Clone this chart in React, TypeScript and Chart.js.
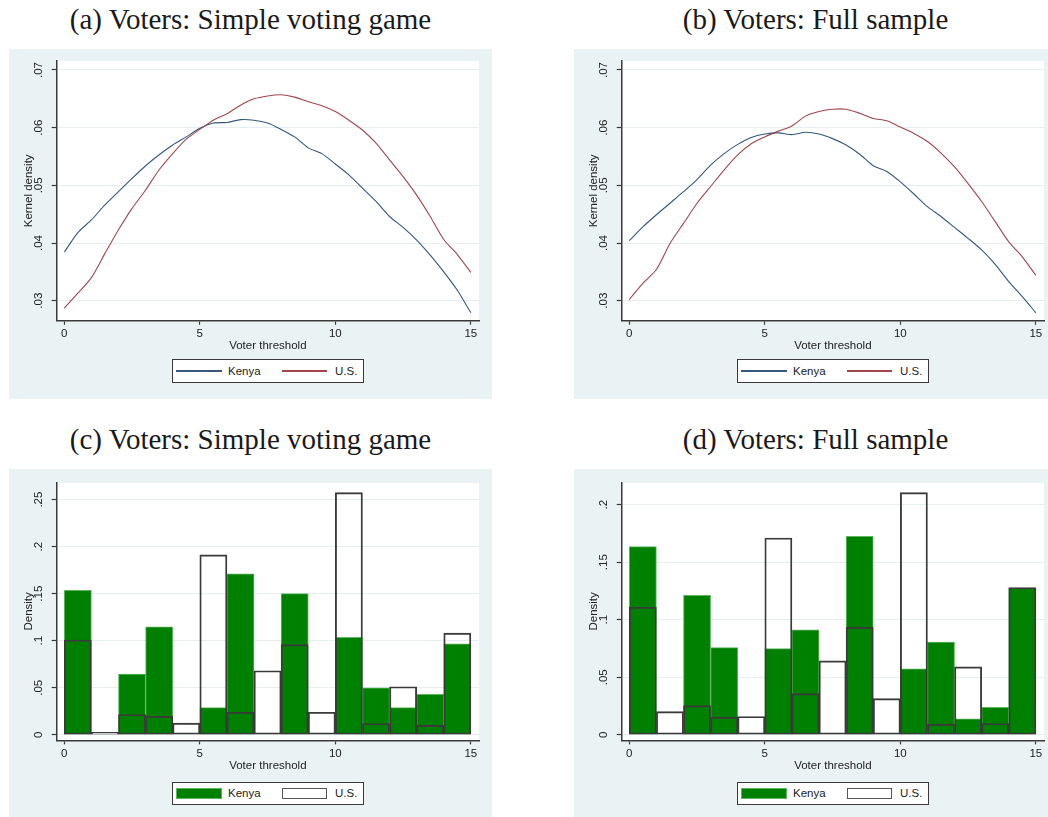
import React, { useEffect, useRef } from 'react';
import { Chart, registerables } from 'chart.js';

Chart.register(...registerables);

// ---------- DATA ----------
const gridX = [0, 0.5, 1, 1.5, 2, 2.5, 3, 3.5, 4, 4.5, 5, 5.5, 6, 6.5, 7, 7.5, 8, 8.5, 9, 9.5, 10, 10.5, 11, 11.5, 12, 12.5, 13, 13.5, 14, 14.5, 15];

const kernelKenyaA = [0.0384, 0.0418, 0.0440, 0.0466, 0.0489, 0.0512, 0.0534, 0.0553, 0.0570, 0.0584, 0.0599, 0.0608, 0.0609, 0.0614, 0.0613, 0.0608, 0.0597, 0.0584, 0.0565, 0.0555, 0.0537, 0.0518, 0.0495, 0.0472, 0.0446, 0.0427, 0.0405, 0.0379, 0.0350, 0.0318, 0.0279];
const kernelUSA = [0.0287, 0.0313, 0.0340, 0.0382, 0.0423, 0.0460, 0.0492, 0.0527, 0.0555, 0.0580, 0.0597, 0.0613, 0.0624, 0.0639, 0.0650, 0.0655, 0.0657, 0.0653, 0.0645, 0.0638, 0.0628, 0.0613, 0.0596, 0.0573, 0.0544, 0.0515, 0.0483, 0.0446, 0.0406, 0.0380, 0.0349];

const kernelKenyaB = [0.0404, 0.0428, 0.0449, 0.0469, 0.0489, 0.0510, 0.0535, 0.0555, 0.0571, 0.0583, 0.0589, 0.0591, 0.0588, 0.0592, 0.0589, 0.0581, 0.0570, 0.0554, 0.0534, 0.0524, 0.0506, 0.0485, 0.0463, 0.0446, 0.0427, 0.0408, 0.0388, 0.0363, 0.0333, 0.0307, 0.0279];
const kernelUSB = [0.0302, 0.0330, 0.0354, 0.0399, 0.0434, 0.0469, 0.0498, 0.0527, 0.0553, 0.0572, 0.0584, 0.0594, 0.0603, 0.0620, 0.0628, 0.0632, 0.0632, 0.0625, 0.0616, 0.0612, 0.0601, 0.0590, 0.0576, 0.0556, 0.0532, 0.0503, 0.0472, 0.0437, 0.0402, 0.0376, 0.0344];

const binCenters = [0.5, 1.5, 2.5, 3.5, 4.5, 5.5, 6.5, 7.5, 8.5, 9.5, 10.5, 11.5, 12.5, 13.5, 14.5];

const histKenyaC = [0.1535, 0, 0.0644, 0.1148, 0, 0.0289, 0.1711, 0, 0.150, 0, 0.1035, 0.050, 0.0289, 0.043, 0.0968];
const histUSC = [0.1007, 0.0025, 0.0215, 0.0197, 0.0123, 0.1912, 0.0239, 0.068, 0.0958, 0.0239, 0.2574, 0.012, 0.051, 0.0099, 0.108];

const histKenyaD = [0.1635, 0, 0.1211, 0.0757, 0, 0.0748, 0.0912, 0, 0.1724, 0, 0.0573, 0.0806, 0.0138, 0.0239, 0.1272];
const histUSD = [0.1108, 0.0201, 0.0253, 0.0153, 0.0158, 0.171, 0.0357, 0.0642, 0.0935, 0.0314, 0.2104, 0.0092, 0.059, 0.0098, 0.128];

const xTicks = [0, 5, 10, 15];
const kernelYTicks = [0.03, 0.04, 0.05, 0.06, 0.07];
const kernelYLabels = ['.03', '.04', '.05', '.06', '.07'];
const histCYTicks = [0, 0.05, 0.1, 0.15, 0.2, 0.25];
const histCYLabels = ['0', '.05', '.1', '.15', '.2', '.25'];
const histDYTicks = [0, 0.05, 0.1, 0.15, 0.2];
const histDYLabels = ['0', '.05', '.1', '.15', '.2'];

const titles = [
  '(a) Voters: Simple voting game',
  '(b) Voters: Full sample',
  '(c) Voters: Simple voting game',
  '(d) Voters: Full sample',
];
const seriesNames = ['Kenya', 'U.S.'];

// ---------- STYLE ----------
const SANS = '"Liberation Sans", Arial, Helvetica, sans-serif';
const SERIF = '"Liberation Serif", "Times New Roman", serif';
const PANEL_W = 483;
const PANEL_H = 350;
const BG = '#EAF2F3';
const GRID = '#E6EEF0';
const AXIS = '#3A3A3A';
const TEXT = '#222222';
const KENYA_LINE = '#34587E';
const US_LINE = '#A0464F';
const KENYA_FILL = '#008000';
const KENYA_EDGE = '#5DB55D';
const US_EDGE = '#3A3A3A';

const yTickPlugin = {
  id: 'yTickLabels',
  afterDraw(chart: any, _args: any, opts: any) {
    const ys = chart.scales.y;
    const ctx = chart.ctx;
    ctx.save();
    ctx.fillStyle = TEXT;
    ctx.font = `11.5px ${SANS}`;
    ctx.textAlign = 'center';
    ctx.textBaseline = 'alphabetic';
    (opts.values as number[]).forEach((v, i) => {
      const py = ys.getPixelForValue(v);
      ctx.save();
      ctx.translate(opts.x, py);
      ctx.rotate(-Math.PI / 2);
      ctx.fillText(opts.labels[i], 0, 0);
      ctx.restore();
    });
    ctx.restore();
  },
};

type PanelProps = {
  left: number;
  top: number;
  title: string;
  kind: 'kernel' | 'hist';
  kenya: number[];
  us: number[];
  yMin: number;
  yMax: number;
  yTicks: number[];
  yLabels: string[];
  yTitle: string;
};

function Panel(p: PanelProps) {
  const ref = useRef<HTMLCanvasElement>(null);
  const areaTop = p.kind === 'kernel' ? 12 : 13.4;
  const areaBottom = p.kind === 'kernel' ? 271.7 : 271.4;
  const xScaleH = 32.4;

  useEffect(() => {
    const isK = p.kind === 'kernel';
    const xs = isK ? gridX : binCenters;
    const datasets: any[] = isK
      ? [
          {
            label: seriesNames[0],
            data: xs.map((x, i) => ({ x, y: p.kenya[i] })),
            borderColor: KENYA_LINE,
            borderWidth: 1.1,
            pointRadius: 0,
            tension: 0.25,
            fill: false,
            order: 2,
          },
          {
            label: seriesNames[1],
            data: xs.map((x, i) => ({ x, y: p.us[i] })),
            borderColor: US_LINE,
            borderWidth: 1.1,
            pointRadius: 0,
            tension: 0.25,
            fill: false,
            order: 1,
          },
        ]
      : [
          {
            label: seriesNames[0],
            data: xs.map((x, i) => ({ x, y: p.kenya[i] })),
            backgroundColor: KENYA_FILL,
            borderColor: KENYA_EDGE,
            borderWidth: 1,
            borderSkipped: false,
            grouped: false,
            barPercentage: 1,
            categoryPercentage: 1,
            order: 2,
          },
          {
            label: seriesNames[1],
            data: xs.map((x, i) => ({ x, y: p.us[i] })),
            backgroundColor: 'rgba(0,0,0,0)',
            borderColor: US_EDGE,
            borderWidth: 1.2,
            borderSkipped: false,
            grouped: false,
            barPercentage: 1,
            categoryPercentage: 1,
            order: 1,
          },
        ];

    const chart = new Chart(ref.current as HTMLCanvasElement, {
      type: isK ? 'line' : 'bar',
      data: { datasets },
      plugins: [yTickPlugin as any],
      options: {
        responsive: false,
        animation: false,
        devicePixelRatio: 1,
        layout: {
          padding: {
            left: 0,
            top: areaTop,
            right: PANEL_W - 470,
            bottom: PANEL_H - areaBottom - xScaleH,
          },
        },
        plugins: {
          legend: { display: false },
          tooltip: { enabled: false },
          yTickLabels: { values: p.yTicks, labels: p.yLabels, x: 33 },
        } as any,
        scales: {
          x: {
            type: 'linear',
            min: -0.28,
            max: 15.3,
            offset: false,
            afterBuildTicks: (s: any) => {
              s.ticks = xTicks.map((v) => ({ value: v }));
            },
            afterFit: (s: any) => {
              s.height = xScaleH;
            },
            grid: {
              display: true,
              drawOnChartArea: false,
              drawTicks: true,
              tickLength: 4,
              tickColor: AXIS,
              tickWidth: 1.2,
              offset: false,
            },
            border: { display: true, color: AXIS, width: 1.5 },
            ticks: {
              color: TEXT,
              font: { family: SANS, size: 11.5 },
              padding: 2.6,
              maxRotation: 0,
              autoSkip: false,
            },
            title: {
              display: true,
              text: 'Voter threshold',
              color: TEXT,
              font: { family: SANS, size: 11.5 },
              padding: { top: 0, bottom: 0 },
            },
          },
          y: {
            type: 'linear',
            min: p.yMin,
            max: p.yMax,
            beginAtZero: false,
            afterBuildTicks: (s: any) => {
              s.ticks = p.yTicks.map((v) => ({ value: v }));
            },
            afterFit: (s: any) => {
              s.width = 47.7;
            },
            grid: {
              display: true,
              drawOnChartArea: true,
              color: GRID,
              lineWidth: 1,
              drawTicks: true,
              tickLength: 5,
              tickColor: AXIS,
              tickWidth: 1.2,
            },
            border: { display: true, color: AXIS, width: 1.5 },
            ticks: { display: false },
            title: {
              display: true,
              text: p.yTitle,
              color: TEXT,
              font: { family: SANS, size: 11.5 },
              padding: { top: 12.6, bottom: 0 },
            },
          },
        },
      } as any,
    });
    return () => chart.destroy();
  }, []);

  const isK = p.kind === 'kernel';
  const legTop = isK ? 310.3 : 312.7;
  const legMid = legTop + 11.7;
  const textStyle: React.CSSProperties = {
    position: 'absolute',
    top: legMid - 7.5,
    height: 15,
    lineHeight: '15px',
    fontFamily: SANS,
    fontSize: 11.5,
    color: TEXT,
    whiteSpace: 'nowrap',
  };

  return (
    <>
      <div
        style={{
          position: 'absolute',
          left: p.left,
          width: PANEL_W,
          top: p.top - 44,
          textAlign: 'center',
          fontFamily: SERIF,
          fontSize: 29,
          lineHeight: '29px',
          color: '#1a1a1a',
          whiteSpace: 'nowrap',
        }}
      >
        {p.title}
      </div>
      <div
        style={{
          position: 'absolute',
          left: p.left,
          top: p.top,
          width: PANEL_W,
          height: PANEL_H,
          background: BG,
          overflow: 'hidden',
        }}
      >
        <div
          style={{
            position: 'absolute',
            left: 47.7,
            top: areaTop,
            width: 470 - 47.7,
            height: areaBottom - areaTop,
            background: '#ffffff',
          }}
        />
        <canvas
          ref={ref}
          width={PANEL_W}
          height={PANEL_H}
          style={{ position: 'absolute', left: 0, top: 0, width: PANEL_W, height: PANEL_H }}
        />
        <div
          style={{
            position: 'absolute',
            left: 163,
            top: legTop,
            width: 192,
            height: 23.4,
            border: '1.5px solid #3a3a3a',
            background: '#ffffff',
            boxSizing: 'border-box',
          }}
        />
        {isK ? (
          <>
            <div style={{ position: 'absolute', left: 167, width: 46, top: legMid - 0.6, height: 1.2, background: KENYA_LINE }} />
            <div style={{ position: 'absolute', left: 273, width: 45, top: legMid - 0.6, height: 1.2, background: US_LINE }} />
          </>
        ) : (
          <>
            <div
              style={{
                position: 'absolute',
                left: 167,
                width: 46,
                top: legMid - 5.6,
                height: 11.3,
                background: KENYA_FILL,
                border: `1px solid ${KENYA_EDGE}`,
                boxSizing: 'border-box',
              }}
            />
            <div
              style={{
                position: 'absolute',
                left: 273,
                width: 45,
                top: legMid - 5.6,
                height: 11.3,
                background: '#ffffff',
                border: '1px solid #555',
                boxSizing: 'border-box',
              }}
            />
          </>
        )}
        <div style={{ ...textStyle, left: 219 }}>{seriesNames[0]}</div>
        <div style={{ ...textStyle, left: 326 }}>{seriesNames[1]}</div>
      </div>
    </>
  );
}

export default function App() {
  return (
    <div
      style={{
        position: 'fixed',
        left: 0,
        top: 0,
        width: '100vw',
        height: '100vh',
        background: '#ffffff',
        overflow: 'hidden',
      }}
    >
      <Panel
        left={9}
        top={49}
        title={titles[0]}
        kind="kernel"
        kenya={kernelKenyaA}
        us={kernelUSA}
        yMin={0.02653}
        yMax={0.07156}
        yTicks={kernelYTicks}
        yLabels={kernelYLabels}
        yTitle="Kernel density"
      />
      <Panel
        left={574}
        top={49}
        title={titles[1]}
        kind="kernel"
        kenya={kernelKenyaB}
        us={kernelUSB}
        yMin={0.02653}
        yMax={0.07156}
        yTicks={kernelYTicks}
        yLabels={kernelYLabels}
        yTitle="Kernel density"
      />
      <Panel
        left={9}
        top={469.3}
        title={titles[2]}
        kind="hist"
        kenya={histKenyaC}
        us={histUSC}
        yMin={-0.006}
        yMax={0.2683}
        yTicks={histCYTicks}
        yLabels={histCYLabels}
        yTitle="Density"
      />
      <Panel
        left={574}
        top={469.3}
        title={titles[3]}
        kind="hist"
        kenya={histKenyaD}
        us={histUSD}
        yMin={-0.0049}
        yMax={0.2193}
        yTicks={histDYTicks}
        yLabels={histDYLabels}
        yTitle="Density"
      />
    </div>
  );
}
